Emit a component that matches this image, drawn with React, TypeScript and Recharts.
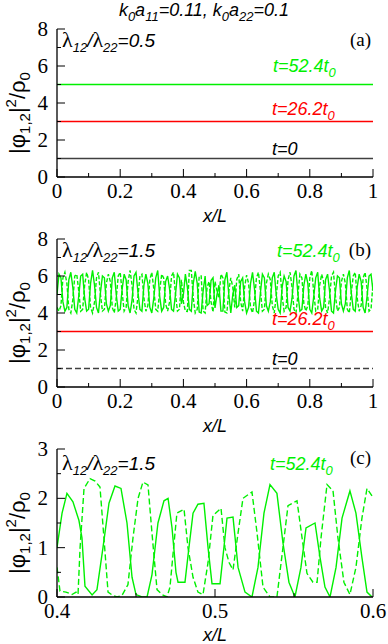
import { LineChart, Line, XAxis, YAxis } from "recharts"

const SERIF = "Liberation Serif, Times New Roman, serif"
const SANS = "Liberation Sans, Arial, sans-serif"
const GREEN = "#00f000"
const RED = "#ff0000"
const DARK = "#404040"

// panel (a): flat profiles over x/L
const xEnds = [0, 1]
const blackA = [1, 1]
const redA = [3, 3]
const greenA = [5, 5]

// panel (b): t=0 and t=26.2 still flat, t=52.4 modulated (both components, offset 4)
const blackB = [1, 1]
const redB = [3, 3]
const greenSolidB = [
  5.0, 6.1, 5.9, 4.6, 4.1, 4.3, 5.8, 6.2, 5.4, 4.2, 4.0, 4.9, 6.0, 6.1, 4.8, 4.1, 4.2, 5.6, 6.3, 5.5,
  4.3, 4.0, 5.1, 6.0, 5.9, 4.5, 4.1, 4.4, 5.9, 6.2, 5.0, 4.1, 4.2, 5.3, 6.1, 5.8, 4.4, 4.0, 4.7, 6.0,
  6.2, 5.1, 4.2, 4.1, 5.5, 6.1, 5.6, 4.3, 4.0, 4.8, 5.9, 6.3, 4.9, 4.1, 4.3, 5.7, 6.0, 5.3, 4.2, 4.1,
  5.0, 6.1, 5.9, 4.5,
  5.0, 6.1, 5.4, 4.2, 4.1, 5.6, 6.25, 5.6, 4.05, 4.0, 5.2, 6.0, 4.4, 4.5, 5.75, 5.9, 4.27, 5.0, 5.5, 4.1,
  4.1, 5.8, 6.2, 5.0, 4.0, 5.0, 5.5, 4.3, 4.4, 5.7, 5.9, 4.6, 4.0,
  4.3, 5.6, 6.2, 5.3, 4.1, 4.0, 5.1, 6.1, 5.9, 4.4, 4.1, 4.6, 5.9, 6.2, 5.0, 4.2, 4.0, 5.4, 6.0, 5.7,
  4.3, 4.1, 4.8, 6.0, 6.3, 5.0, 4.1, 4.2, 5.5, 6.1, 5.6, 4.2, 4.0, 4.9, 5.9, 6.2, 4.8, 4.1, 4.3, 5.8,
  6.1, 5.2, 4.1, 4.0, 5.2, 6.0, 5.9, 4.5, 4.1, 4.5, 5.9, 6.3, 5.1, 4.2, 4.1, 5.4, 6.1, 5.7, 4.3, 4.0,
  4.9, 6.0, 6.1, 5.2,
]
const greenDashB = [
  4.3, 4.1, 4.4, 5.9, 6.2, 5.6, 4.2, 4.0, 4.7, 6.0, 6.1, 5.2, 4.1, 4.2, 5.5, 6.2, 5.8, 4.3, 4.0, 4.6,
  5.9, 6.2, 5.0, 4.1, 4.2, 5.6, 6.1, 5.7, 4.3, 4.0, 4.8, 6.0, 6.2, 5.1, 4.1, 4.3, 5.7, 6.3, 5.5, 4.2,
  4.0, 4.9, 6.0, 6.1, 4.8, 4.1, 4.4, 5.8, 6.2, 5.3, 4.2, 4.1, 5.2, 6.1, 5.9, 4.5, 4.1, 4.6, 6.0, 6.2,
  5.0, 4.1, 4.2, 5.8,
  4.6, 4.1, 4.08, 6.3, 6.3, 4.8, 4.0, 4.2, 6.0, 6.0, 4.1, 4.0, 5.4, 5.7, 4.6, 4.05, 5.7, 5.2, 4.8, 6.1,
  5.9, 4.05, 4.0, 5.2, 5.9, 5.4, 4.3, 5.8, 6.1, 4.6, 4.1, 5.4, 6.05,
  5.6, 4.3, 4.0, 4.7, 5.9, 6.2, 5.2, 4.1, 4.2, 5.6, 6.1, 5.8, 4.4, 4.0, 4.9, 6.0, 6.2, 4.9, 4.1, 4.3,
  5.8, 6.2, 5.4, 4.2, 4.0, 5.0, 6.1, 5.9, 4.5, 4.1, 4.4, 5.9, 6.3, 5.1, 4.1, 4.2, 5.5, 6.1, 5.7, 4.3,
  4.0, 4.8, 6.0, 6.2, 4.9, 4.1, 4.3, 5.7, 6.1, 5.6, 4.2, 4.0, 5.1, 6.0, 6.2, 4.8, 4.1, 4.4, 5.9, 6.2,
  5.3, 4.1, 4.2, 5.6,
]

// panel (c): zoom on 0.4 < x/L < 0.6 at t=52.4
const xSolidC = [
  0.4, 0.4032, 0.4063, 0.4101, 0.4139, 0.4158, 0.4177, 0.4222, 0.4253, 0.4291,
  0.4329, 0.4367, 0.4405, 0.4443, 0.4475, 0.45, 0.4538, 0.457, 0.4601, 0.4639,
  0.4677, 0.4703, 0.4728, 0.4753, 0.4766, 0.481, 0.4835, 0.4861, 0.4892, 0.493,
  0.4956, 0.4981, 0.5032, 0.5063, 0.5076, 0.5114, 0.5146, 0.519, 0.5234, 0.5272,
  0.531, 0.5348, 0.5392, 0.543, 0.5468, 0.5506, 0.5544, 0.5576, 0.5633, 0.5665,
  0.5696, 0.5728, 0.5766, 0.5804, 0.5854, 0.5892, 0.593, 0.5962, 0.5994,
]
const ySolidC = [
  1.0, 1.7, 2.1, 1.93, 1.55, 1.2, 0.22, 0.04, 0.15, 1.0,
  1.9, 2.25, 2.2, 1.5, 0.4, 0.05, 0.0, 0.0, 0.45, 1.5,
  1.95, 2.0, 1.4, 0.5, 0.3, 0.3, 1.0, 1.7, 1.88, 1.9,
  1.0, 0.27, 0.27, 1.2, 1.6, 1.62, 0.6, 0.1, 0.0, 0.6,
  1.7, 2.28, 2.1, 1.1, 0.3, 0.0, 0.6, 1.4, 1.5, 0.8,
  0.2, 0.0, 0.6, 1.6, 2.15, 1.7, 0.8, 0.1, 0.0,
]
const xDashC = [
  0.4, 0.4019, 0.4057, 0.4095, 0.412, 0.4133, 0.4146, 0.4171, 0.4209, 0.4241,
  0.4272, 0.4297, 0.4323, 0.4354, 0.438, 0.4411, 0.4449, 0.4481, 0.4513, 0.4544,
  0.4576, 0.4601, 0.4633, 0.4665, 0.4696, 0.4715, 0.4741, 0.4759, 0.4804, 0.4829,
  0.4861, 0.4892, 0.4924, 0.4956, 0.4987, 0.5038, 0.5063, 0.5089, 0.5114, 0.5146,
  0.5177, 0.5234, 0.5266, 0.5304, 0.5348, 0.5392, 0.543, 0.5462, 0.5519, 0.5551,
  0.5582, 0.562, 0.5646, 0.5671, 0.5709, 0.5747, 0.5778, 0.5816, 0.5854, 0.5892,
  0.593, 0.5962, 0.5994,
]
const yDashC = [
  0.6, 0.12, 0.1, 0.05, 0.1, 0.05, 1.0, 2.2, 2.4, 2.35,
  2.23, 1.2, 0.1, 0.03, 0.0, 0.03, 0.25, 1.2, 2.0, 2.33,
  2.27, 1.3, 0.15, 0.05, 0.0, 0.2, 1.1, 1.7, 1.78, 1.0,
  0.4, 0.1, 0.05, 0.7, 1.65, 1.8, 1.0, 0.7, 0.55, 1.3,
  2.0, 2.13, 1.3, 0.2, 0.0, 0.0, 1.0, 1.85, 1.95, 1.2,
  0.48, 0.3, 0.3, 1.2, 2.28, 2.15, 1.2, 0.3, 0.05, 0.6,
  1.6, 2.2, 2.05,
]

const ticksX01 = [0, 0.1, 0.2, 0.3, 0.4, 0.5, 0.6, 0.7, 0.8, 0.9, 1]
const majorX01 = [0, 0.2, 0.4, 0.6, 0.8, 1]
const ticksY8 = [0, 1, 2, 3, 4, 5, 6, 7, 8]
const majorY8 = [0, 2, 4, 6, 8]
const ticksXc = [0.4, 0.45, 0.5, 0.55, 0.6]
const majorXc = [0.4, 0.5, 0.6]
const ticksY3 = [0, 0.5, 1, 1.5, 2, 2.5, 3]
const majorY3 = [0, 1, 2, 3]

type Row = { x: number; [k: string]: number }

// one table per panel: every series has its own column, rows sorted by x, gaps bridged with connectNulls
function table(cols: { key: string; xs: number[]; ys: number[] }[]): Row[] {
  const rows: Row[] = []
  cols.forEach((c) => c.ys.forEach((y, i) => rows.push({ x: c.xs[i], [c.key]: y })))
  return rows.sort((a, b) => a.x - b.x)
}
const grid = (ys: number[]) => ys.map((_, i) => i / (ys.length - 1))

const dataA = table([
  { key: "blackA", xs: xEnds, ys: blackA },
  { key: "redA", xs: xEnds, ys: redA },
  { key: "greenA", xs: xEnds, ys: greenA },
])
const dataB = table([
  { key: "blackB", xs: xEnds, ys: blackB },
  { key: "redB", xs: xEnds, ys: redB },
  { key: "greenSolidB", xs: grid(greenSolidB), ys: greenSolidB },
  { key: "greenDashB", xs: grid(greenDashB), ys: greenDashB },
])
const dataC = table([
  { key: "solidC", xs: xSolidC, ys: ySolidC },
  { key: "dashC", xs: xDashC, ys: yDashC },
])

const near = (list: number[], v: number) => list.some((m) => Math.abs(m - v) < 1e-9)

function makeTick(side: string, major: number[]) {
  return (p: any) => {
    const { x, y, payload } = p
    const big = near(major, payload.value)
    const len = big ? 8 : 4
    let x2 = x
    let y2 = y
    if (side === "bottom") y2 = y - len
    if (side === "top") y2 = y + len
    if (side === "left") x2 = x + len
    if (side === "right") x2 = x - len
    return (
      <g>
        <line x1={x} y1={y} x2={x2} y2={y2} stroke="#000" strokeWidth={1} />
        {big && side === "bottom" && (
          <text x={x} y={y + 21} textAnchor="middle" fontFamily={SERIF} fontSize={21} fill="#000">
            {String(payload.value)}
          </text>
        )}
        {big && side === "left" && (
          <text x={x - 9} y={y + 7} textAnchor="end" fontFamily={SERIF} fontSize={21} fill="#000">
            {String(payload.value)}
          </text>
        )}
      </g>
    )
  }
}

type Series = { key: string; color: string; dash?: string }

function Panel(props: {
  top: number
  height: number
  data: Row[]
  xDomain: number[]
  xTicks: number[]
  xMajor: number[]
  yDomain: number[]
  yTicks: number[]
  yMajor: number[]
  series: Series[]
}) {
  const { top, height, data, xDomain, xTicks, xMajor, yDomain, yTicks, yMajor, series } = props
  const axisLine = { stroke: "#000", strokeWidth: 1.3 }
  const common = { tickLine: false, tickSize: 0, tickMargin: 0, interval: 0 as const, axisLine, allowDataOverflow: true }
  return (
    <div style={{ position: "absolute", left: 0, top }}>
      <LineChart width={388} height={height} data={data} margin={{ top: 29, right: 15, bottom: 0, left: 0 }}>
        <XAxis dataKey="x" type="number" domain={xDomain} ticks={xTicks} height={height - 29 - 148}
          tick={makeTick("bottom", xMajor)} {...common} />
        <XAxis xAxisId="top" dataKey="x" orientation="top" type="number" domain={xDomain} ticks={xTicks} height={0}
          tick={makeTick("top", xMajor)} {...common} />
        <YAxis type="number" domain={yDomain} ticks={yTicks} width={57}
          tick={makeTick("left", yMajor)} {...common} />
        <YAxis yAxisId="right" orientation="right" type="number" domain={yDomain} ticks={yTicks} width={0}
          tick={makeTick("right", yMajor)} {...common} />
        {series.map((s) => (
          <Line key={s.key} dataKey={s.key} type="linear" stroke={s.color} strokeWidth={1.4}
            strokeDasharray={s.dash} connectNulls dot={false} activeDot={false} isAnimationActive={false} />
        ))}
      </LineChart>
    </div>
  )
}

function Sub({ children, size = 13 }: { children: string; size?: number }) {
  return (
    <>
      <tspan dy={5} fontSize={size}>{children}</tspan>
      <tspan dy={-5}>{"\u200B"}</tspan>
    </>
  )
}

function Ratio({ x, y, value }: { x: number; y: number; value: string }) {
  return (
    <text x={x} y={y} fontFamily={SANS} fontStyle="italic" fontSize={19} fill="#000">
      <tspan fontFamily={SERIF} fontStyle="normal" fontSize={22}>λ</tspan>
      <Sub>12</Sub>
      <tspan>/</tspan>
      <tspan fontFamily={SERIF} fontStyle="normal" fontSize={22}>λ</tspan>
      <Sub>22</Sub>
      <tspan>={value}</tspan>
    </text>
  )
}

function Time({ x, y, value, color, sub = true }: { x: number; y: number; value: string; color: string; sub?: boolean }) {
  return (
    <text x={x} y={y} fontFamily={SANS} fontStyle="italic" fontSize={18} fill={color}>
      <tspan>{value}</tspan>
      {sub && <Sub>0</Sub>}
    </text>
  )
}

function YLabel({ cy }: { cy: number }) {
  return (
    <text transform={`translate(25 ${cy}) rotate(-90)`} textAnchor="middle" fontFamily={SANS} fontSize={22} fill="#000">
      <tspan>|φ</tspan>
      <Sub size={15}>1,2</Sub>
      <tspan>|</tspan>
      <tspan dy={-9} fontSize={15}>2</tspan>
      <tspan dy={9}>/ρ</tspan>
      <Sub size={15}>0</Sub>
    </text>
  )
}

function XLabel({ y }: { y: number }) {
  return (
    <text x={215} y={y} textAnchor="middle" fontFamily={SANS} fontStyle="italic" fontSize={18} fill="#000">
      x/L
    </text>
  )
}

function Tag({ y, label }: { y: number; label: string }) {
  return (
    <text x={371} y={y} textAnchor="end" fontFamily={SERIF} fontSize={19} fill="#000">
      {label}
    </text>
  )
}

export default function App() {
  return (
    <div style={{ position: "absolute", left: 0, top: 0, width: 388, height: 644, overflow: "hidden", background: "#fff" }}>
      <Panel top={0} height={230} data={dataA} xDomain={[0, 1]} xTicks={ticksX01} xMajor={majorX01}
        yDomain={[0, 8]} yTicks={ticksY8} yMajor={majorY8}
        series={[
          { key: "blackA", color: DARK },
          { key: "redA", color: RED },
          { key: "greenA", color: GREEN },
        ]} />
      <Panel top={210} height={230} data={dataB} xDomain={[0, 1]} xTicks={ticksX01} xMajor={majorX01}
        yDomain={[0, 8]} yTicks={ticksY8} yMajor={majorY8}
        series={[
          { key: "blackB", color: DARK, dash: "6 3" },
          { key: "redB", color: RED },
          { key: "greenSolidB", color: GREEN },
          { key: "greenDashB", color: GREEN, dash: "4 2" },
        ]} />
      <Panel top={420} height={224} data={dataC} xDomain={[0.4, 0.6]} xTicks={ticksXc} xMajor={majorXc}
        yDomain={[0, 3]} yTicks={ticksY3} yMajor={majorY3}
        series={[
          { key: "solidC", color: GREEN },
          { key: "dashC", color: GREEN, dash: "6 3" },
        ]} />
      <svg width={388} height={644} style={{ position: "absolute", left: 0, top: 0, pointerEvents: "none" }}>
        <text x={204} y={16} textAnchor="middle" fontFamily={SANS} fontStyle="italic" fontSize={18} fill="#000">
          <tspan>k</tspan><Sub>0</Sub><tspan>a</tspan><Sub>11</Sub>
          <tspan>=0.11, k</tspan><Sub>0</Sub><tspan>a</tspan><Sub>22</Sub>
          <tspan>=0.1</tspan>
        </text>

        <Ratio x={62} y={47} value="0.5" />
        <Tag y={46} label="(a)" />
        <Time x={273} y={72} value="t=52.4t" color={GREEN} />
        <Time x={272} y={115} value="t=26.2t" color={RED} />
        <Time x={272} y={155} value="t=0" color="#000" sub={false} />
        <YLabel cy={113} />
        <XLabel y={222} />

        <Ratio x={62} y={257} value="1.5" />
        <Tag y={256} label="(b)" />
        <Time x={277} y={257} value="t=52.4t" color={GREEN} />
        <Time x={272} y={325} value="t=26.2t" color={RED} />
        <Time x={272} y={365} value="t=0" color="#000" sub={false} />
        <YLabel cy={323} />
        <XLabel y={432} />

        <Ratio x={62} y={470} value="1.5" />
        <Tag y={464} label="(c)" />
        <Time x={270} y={470} value="t=52.4t" color={GREEN} />
        <YLabel cy={533} />
        <XLabel y={641} />
      </svg>
    </div>
  )
}
